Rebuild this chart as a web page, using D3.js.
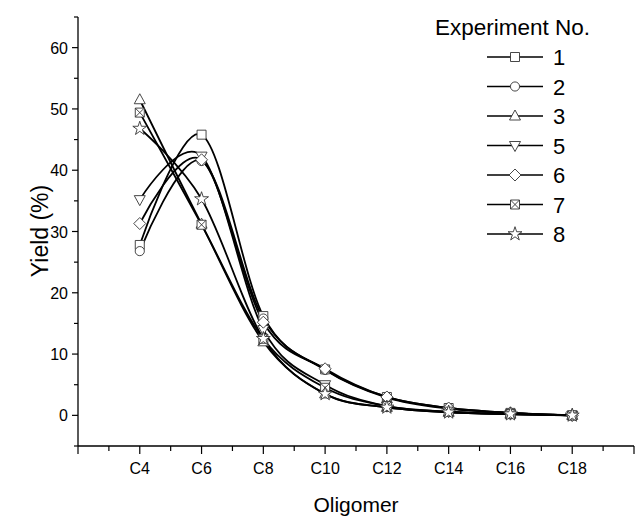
<!DOCTYPE html>
<html>
<head>
<meta charset="utf-8">
<script src="https://cdn.jsdelivr.net/npm/d3@7"></script>
<style>
  html,body{margin:0;background:#fff;}
  svg text{font-family:"Liberation Sans",Arial,sans-serif;fill:#000;}
</style>
</head>
<body>
<svg id="chart" width="635" height="517"></svg>
<script>
// carbon numbers on the x axis
const carbons = [4, 6, 8, 10, 12, 14, 16, 18];
const xTickLabels = ["C4", "C6", "C8", "C10", "C12", "C14", "C16", "C18"];
const yTicks = [0, 10, 20, 30, 40, 50, 60];

const experiments = ["1", "2", "3", "5", "6", "7", "8"];
const exp1 = [27.8, 45.8, 16.2, 7.5, 3.0, 1.2, 0.4, 0.0];
const exp2 = [26.8, 41.5, 15.8, 7.4, 2.9, 1.1, 0.4, 0.0];
const exp3 = [51.5, 31.2, 12.0, 3.5, 1.3, 0.5, 0.2, 0.0];
const exp5 = [35.2, 42.3, 14.0, 5.0, 1.5, 0.6, 0.2, 0.0];
const exp6 = [31.3, 41.7, 15.2, 7.6, 3.0, 1.2, 0.4, 0.0];
const exp7 = [49.4, 31.1, 12.5, 4.5, 1.5, 0.6, 0.2, 0.0];
const exp8 = [46.8, 35.3, 12.5, 3.5, 1.3, 0.5, 0.2, 0.0];
const seriesValues = [exp1, exp2, exp3, exp5, exp6, exp7, exp8];
const markerKinds = ["square", "circle", "up", "down", "diamond", "boxx", "star"];

const svg = d3.select("#chart");
const x = d3.scaleLinear().domain([2, 20]).range([78, 634]);
const y = d3.scaleLinear().domain([-5, 65]).range([446, 17]);

// markers
function markerPath(kind) {
  switch (kind) {
    case "square": return "M-4.5,-4.5H4.5V4.5H-4.5Z";
    case "circle": return d3.symbol(d3.symbolCircle, 66)();
    case "up": return "M0,-6L5.5,4L-5.5,4Z";
    case "down": return "M0,6L5.5,-4L-5.5,-4Z";
    case "diamond": return "M0,-6L6,0L0,6L-6,0Z";
    case "boxx": return "M-4.5,-4.5H4.5V4.5H-4.5ZM-4.5,-4.5L4.5,4.5M4.5,-4.5L-4.5,4.5";
    case "star": return d3.symbol(d3.symbolStar, 60)();
  }
}

// axes
const yAxis = svg.append("g").attr("transform", "translate(78,0)");
yAxis.append("line").attr("x1", 0).attr("x2", 0).attr("y1", y(65)).attr("y2", y(-5)).attr("stroke", "#000").attr("stroke-width", 1.3);
d3.range(-5, 66, 5).forEach(v => {
  const major = v % 10 === 0;
  yAxis.append("line").attr("x1", major ? -6 : -4).attr("x2", 0)
    .attr("y1", y(v)).attr("y2", y(v)).attr("stroke", "#000").attr("stroke-width", 1.2);
});
yAxis.selectAll("text.tick").data(yTicks).join("text")
  .attr("x", -10).attr("y", d => y(d) + 6).attr("text-anchor", "end")
  .attr("font-size", 16).text(d => d);

const xAxis = svg.append("g").attr("transform", "translate(0,446)");
xAxis.append("line").attr("x1", x(2)).attr("x2", x(20)).attr("y1", 0).attr("y2", 0).attr("stroke", "#000").attr("stroke-width", 1.3);
d3.range(2, 21, 1).forEach(v => {
  const major = v % 2 === 0;
  xAxis.append("line").attr("x1", x(v)).attr("x2", x(v))
    .attr("y1", 0).attr("y2", major ? 8 : 5).attr("stroke", "#000").attr("stroke-width", 1.2);
});
xAxis.selectAll("text.tick").data(carbons).join("text")
  .attr("x", d => x(d)).attr("y", 28).attr("text-anchor", "middle")
  .attr("font-size", 16).text((d, i) => xTickLabels[i]);

svg.append("text").attr("transform", "translate(48,231) rotate(-90)")
  .attr("text-anchor", "middle").attr("font-size", 23).text("Yield (%)");
svg.append("text").attr("x", 356).attr("y", 512)
  .attr("text-anchor", "middle").attr("font-size", 21).text("Oligomer");

// curves
const line = d3.line().x((d, i) => x(carbons[i])).y(d => y(d)).curve(d3.curveCardinal.tension(0));
seriesValues.forEach((vals, k) => {
  svg.append("path").attr("d", line(vals)).attr("fill", "none")
    .attr("stroke", "#000").attr("stroke-width", 1.8);
});
seriesValues.forEach((vals, k) => {
  svg.append("g").selectAll("path").data(vals).join("path")
    .attr("transform", (d, i) => `translate(${x(carbons[i])},${y(d)})`)
    .attr("d", markerPath(markerKinds[k]))
    .attr("fill", "#fff").attr("stroke", "#333").attr("stroke-width", 0.9);
});

// legend
const legend = svg.append("g");
legend.append("text").attr("x", 435).attr("y", 35).attr("font-size", 22.5).text("Experiment No.");
experiments.forEach((name, k) => {
  const ly = 57 + k * 29.5;
  legend.append("line").attr("x1", 487).attr("x2", 543).attr("y1", ly).attr("y2", ly)
    .attr("stroke", "#000").attr("stroke-width", 1.6);
  legend.append("path").attr("transform", `translate(515,${ly})`).attr("d", markerPath(markerKinds[k]))
    .attr("fill", "#fff").attr("stroke", "#333").attr("stroke-width", 0.9);
  legend.append("text").attr("x", 553).attr("y", ly + 8).attr("font-size", 22).text(name);
});
</script>
</body>
</html>
